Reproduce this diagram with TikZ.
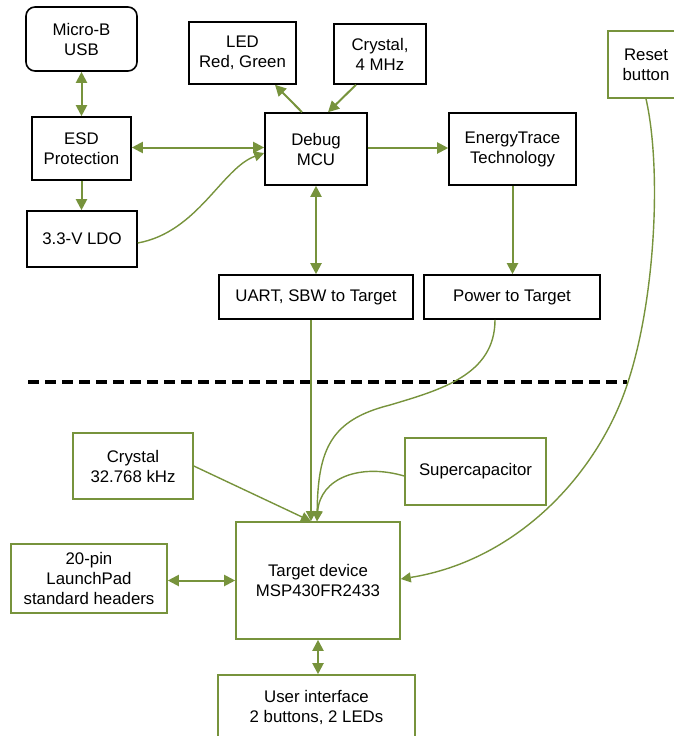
\documentclass[tikz,border=0pt]{standalone}
\usepackage{fontspec}
\setmainfont{Liberation Sans}
\usetikzlibrary{arrows.meta}
\definecolor{olive}{HTML}{77933C}
\begin{document}
\begin{tikzpicture}[x=1pt,y=-1pt,
  box/.style={draw=black, line width=1.6pt, rectangle, inner sep=0pt, align=center,
    font=\fontsize{16.8}{20}\selectfont},
  gbox/.style={box, draw=olive},
  arr/.style={draw=olive, line width=2pt, -{Triangle[length=11pt,width=11pt]}},
  darr/.style={draw=olive, line width=2pt, {Triangle[length=11pt,width=11pt]}-{Triangle[length=11pt,width=11pt]}},
  carr/.style={draw=olive, line width=1.4pt, -{Triangle[length=10pt,width=10pt]}},
  divider/.style={draw=black, line width=4pt, dash pattern=on 11pt off 6pt}
]
\useasboundingbox (0,0) rectangle (674,736);

% upper (debug) part
\node[box, rounded corners=9pt, minimum width=111pt, minimum height=64pt] (usb) at (81.5,39) {Micro-B\\USB};
\node[box, minimum width=99pt, minimum height=63pt] (esd) at (81.5,148.5) {ESD\\Protection};
\node[box, minimum width=110pt, minimum height=56pt] (ldo) at (82,239) {3.3-V LDO};
\node[box, minimum width=107pt, minimum height=62pt] (led) at (242.5,53) {LED\\Red, Green};
\node[box, minimum width=92pt, minimum height=60pt] (xtal4) at (380,54) {Crystal,\\4 MHz};
\node[box, minimum width=102pt, minimum height=72pt] (mcu) at (316,149) {Debug\\MCU};
\node[box, minimum width=127pt, minimum height=72pt] (et) at (512.5,149) {EnergyTrace\\Technology};
\node[gbox, minimum width=76pt, minimum height=67pt] (reset) at (646,64.5) {Reset\\button};
\node[box, minimum width=194pt, minimum height=44pt] (uart) at (316,297) {UART, SBW to Target};
\node[box, minimum width=176pt, minimum height=44pt] (power) at (512,297) {Power to Target};

% lower (target) part
\node[gbox, minimum width=120pt, minimum height=66pt] (xtal32) at (133,466) {Crystal\\32.768 kHz};
\node[gbox, minimum width=141pt, minimum height=67pt] (super) at (475.5,471.5) {Supercapacitor};
\node[gbox, minimum width=164pt, minimum height=117pt] (target) at (318,580.5) {Target device\\MSP430FR2433};
\node[gbox, minimum width=156pt, minimum height=69pt] (pin20) at (89,578.5) {20-pin\\LaunchPad\\standard headers};
\node[gbox, minimum width=197pt, minimum height=65pt] (ui) at (316.5,707.5) {User interface\\2 buttons, 2 LEDs};

% divider
\coordinate (dl) at (28,382);
\coordinate (dr) at (627,382);
\draw[divider] (dl) -- (dr);

% connectors, debug side
\draw[darr] (usb.south) -- (esd.north);
\draw[darr] ([yshift=1pt]esd.east) -- ([yshift=1pt]esd.east -| mcu.west);
\draw[arr] (esd.south) -- (esd.south |- ldo.north);
\draw[carr] ([yshift=-4pt]ldo.east) .. controls (198,232) and (222,168) .. ([yshift=-4pt]mcu.west);
\draw[arr] ([xshift=-14pt]mcu.north) -- ([xshift=32.5pt]led.south);
\draw[arr] ([xshift=-24pt]xtal4.south) -- ([xshift=12pt]mcu.north);
\draw[arr] ([yshift=1pt]mcu.east) -- ([yshift=1pt]et.west);
\draw[darr] (mcu.south) -- (uart.north);
\draw[arr] (et.south) -- (et.south |- power.north);

% connectors, target side
\coordinate (tin) at ([xshift=-7pt]target.north);
\coordinate (tin2) at ([xshift=-1pt]target.north);
\draw[carr] ([xshift=-5pt]uart.south) -- (tin);
\draw[carr] ([xshift=-17pt]power.south) .. controls (495,375) and (440,390) .. (390,405)
  .. controls (330,420) and (318,450) .. (tin2);
\draw[carr] ([yshift=-4.5pt]super.west) .. controls (360,463) and (320,478) .. (tin2);
\draw[carr] (xtal32.east) -- (tin);
\draw[carr] (reset.south) .. controls (662,170) and (655,300) .. (628,382)
  .. controls (600,470) and (520,560) .. ([yshift=1.5pt]target.east);
\draw[darr] (pin20.east |- target.west) -- (target.west);
\draw[darr] (target.south) -- (target.south |- ui.north);
\end{tikzpicture}
\end{document}
